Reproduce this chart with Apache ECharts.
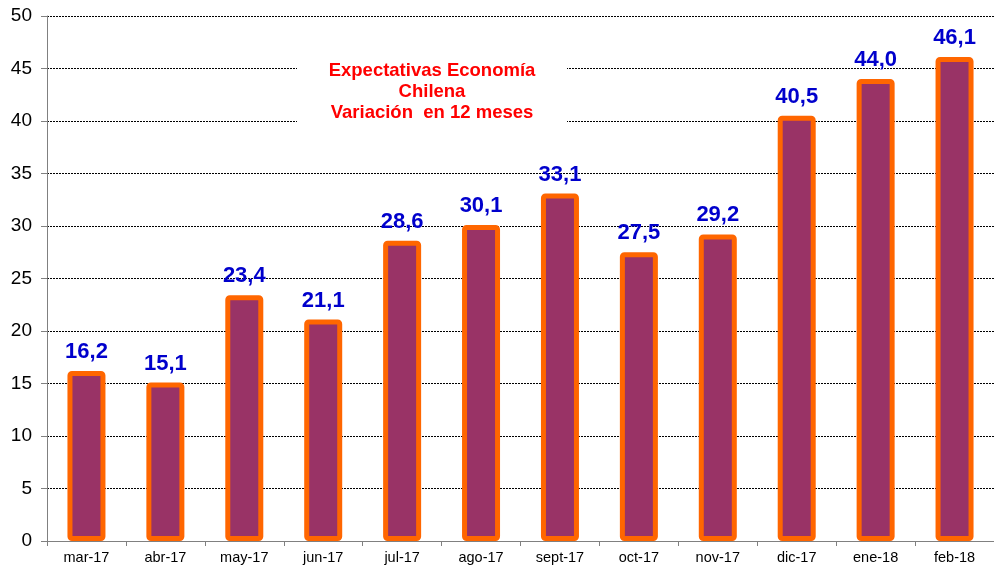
<!DOCTYPE html>
<html><head><meta charset="utf-8">
<script src="https://cdn.jsdelivr.net/npm/echarts@6/dist/echarts.min.js"></script>
<style>html,body{margin:0;padding:0;background:#fff;overflow:hidden}#c{width:994px;height:570px}</style>
</head><body><div id="c"></div>
<script>
const categories = ["mar-17","abr-17","may-17","jun-17","jul-17","ago-17","sept-17","oct-17","nov-17","dic-17","ene-18","feb-18"];
const values = [16.2,15.1,23.4,21.1,28.6,30.1,33.1,27.5,29.2,40.5,44.0,46.1];
const titleLines = ["Expectativas Economía","Chilena","Variación  en 12 meses"];

const chart = echarts.init(document.getElementById('c'), null, {renderer:'canvas'});
chart.setOption({
  animation:false,
  backgroundColor:'#fff',
  grid:{left:47,right:-6,top:16,bottom:29,containLabel:false},
  graphic:[
    {type:'rect',left:297,top:55,z:100,shape:{width:270,height:73},style:{fill:'#fff'}},
    {type:'text',x:432,y:60,z:101,style:{
      text:titleLines.join('\n'),align:'center',verticalAlign:'top',
      fill:'#ff0000',font:'bold 18.5px "Liberation Sans", Arial',lineHeight:21}}
  ],
  xAxis:{
    type:'category',data:categories,
    axisLine:{lineStyle:{color:'#808080',width:1}},
    axisTick:{show:true,alignWithLabel:false,length:5,lineStyle:{color:'#808080'}},
    axisLabel:{color:'#000',fontFamily:'Liberation Sans, Arial',fontSize:14.5,margin:9,interval:0}
  },
  yAxis:{
    type:'value',min:0,max:50,interval:5,
    axisLine:{show:true,lineStyle:{color:'#808080',width:1}},
    axisTick:{show:true,length:6,lineStyle:{color:'#808080'}},
    axisLabel:{color:'#000',fontFamily:'Liberation Sans, Arial',fontSize:19,margin:15},
    splitLine:{show:true,lineStyle:{color:'#000',type:[2,1],width:1}}
  },
  series:[{
    type:'bar',data:values,barWidth:38,
    itemStyle:{color:'#993366',borderColor:'#ff6600',borderWidth:5,borderRadius:2},
    label:{show:true,position:'top',distance:8,color:'#0000cc',fontFamily:'Liberation Sans, Arial',fontWeight:'bold',fontSize:22,
      formatter:p=>p.value.toFixed(1).replace('.',',')}
  }]
});
</script></body></html>
